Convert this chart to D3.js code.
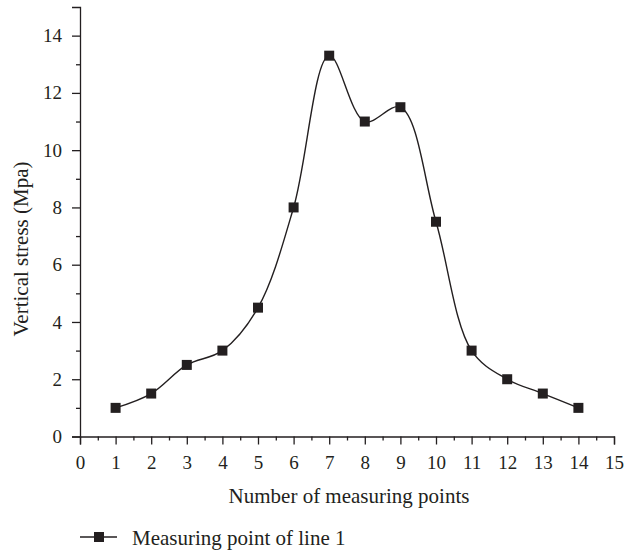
<!DOCTYPE html>
<html>
<head>
<meta charset="utf-8">
<script src="https://cdn.jsdelivr.net/npm/d3@7"></script>
<style>
  body { margin: 0; background: #fff; }
  text { font-family: "Liberation Serif", "DejaVu Serif", serif; fill: #231f20; }
</style>
</head>
<body>
<div id="viz-container"></div>
<script>
// values
const points = [1, 2, 3, 4, 5, 6, 7, 8, 9, 10, 11, 12, 13, 14];
const stress = [1, 1.5, 2.5, 3, 4.5, 8, 13.3, 11, 11.5, 7.5, 3, 2, 1.5, 1];
const xTicks = d3.range(0, 16, 1);
const yTicks = d3.range(0, 15, 2);
const seriesName = "Measuring point of line 1";

const width = 625, height = 554;
const ink = "#231f20";
const tickFont = 19;
const titleFont = 21;

const svg = d3.select("#viz-container")
    .append("svg")
    .attr("width", width)
    .attr("height", height);

const x = d3.scaleLinear().domain([0, 15]).range([80, 614]);
const y = d3.scaleLinear().domain([0, 15]).range([436.5, 7]);

// x axis: major ticks at integers, minor at halves
svg.append("g")
    .attr("class", "axis")
    .attr("transform", `translate(0,${y(0)})`)
    .call(d3.axisBottom(x).tickValues(xTicks).tickSize(8).tickPadding(11).tickFormat(d3.format("d")));
svg.append("g")
    .attr("transform", `translate(0,${y(0)})`)
    .call(d3.axisBottom(x).tickValues(d3.range(0.5, 15, 1)).tickSize(4).tickFormat(""))
    .select(".domain").remove();

// y axis: labels every 2, minor every 1
svg.append("g")
    .attr("class", "axis")
    .attr("transform", `translate(${x(0)},0)`)
    .call(d3.axisLeft(y).tickValues(yTicks).tickSize(8).tickPadding(10).tickFormat(d3.format("d")));
svg.append("g")
    .attr("transform", `translate(${x(0)},0)`)
    .call(d3.axisLeft(y).tickValues(d3.range(1, 15, 2)).tickSize(4).tickFormat(""))
    .select(".domain").remove();

svg.selectAll(".domain").attr("stroke", ink).attr("stroke-width", 1.3);
svg.selectAll(".tick line").attr("stroke", ink).attr("stroke-width", 1.3);
svg.selectAll(".axis")
    .attr("font-family", "Liberation Serif, DejaVu Serif, serif")
    .attr("font-size", tickFont);
svg.selectAll(".tick text").attr("fill", ink);

// axis titles
svg.append("text")
    .attr("x", 349)
    .attr("y", 503)
    .attr("text-anchor", "middle")
    .attr("font-size", titleFont)
    .text("Number of measuring points");

svg.append("text")
    .attr("transform", "translate(28,249) rotate(-90)")
    .attr("text-anchor", "middle")
    .attr("font-size", titleFont)
    .text("Vertical stress (Mpa)");

// the curve
const data = points.map((p, i) => ({ p: p, v: stress[i] }));

const line = d3.line()
    .x(d => x(d.p))
    .y(d => y(d.v))
    .curve(d3.curveCatmullRom.alpha(0.5));

svg.append("path")
    .datum(data)
    .attr("fill", "none")
    .attr("stroke", ink)
    .attr("stroke-width", 1.4)
    .attr("d", line);

const size = 10;
svg.append("g")
    .selectAll("rect")
    .data(data)
    .join("rect")
    .attr("x", d => x(d.p) - size / 2)
    .attr("y", d => y(d.v) - size / 2)
    .attr("width", size)
    .attr("height", size)
    .attr("fill", ink);

// legend
const legend = svg.append("g").attr("transform", "translate(0,537)");
legend.append("line")
    .attr("x1", 80).attr("x2", 117)
    .attr("stroke", ink).attr("stroke-width", 1.4);
legend.append("rect")
    .attr("x", 99 - size / 2).attr("y", -size / 2)
    .attr("width", size).attr("height", size)
    .attr("fill", ink);
legend.append("text")
    .attr("x", 132)
    .attr("y", 8)
    .attr("font-size", titleFont)
    .text(seriesName);
</script>
</body>
</html>
